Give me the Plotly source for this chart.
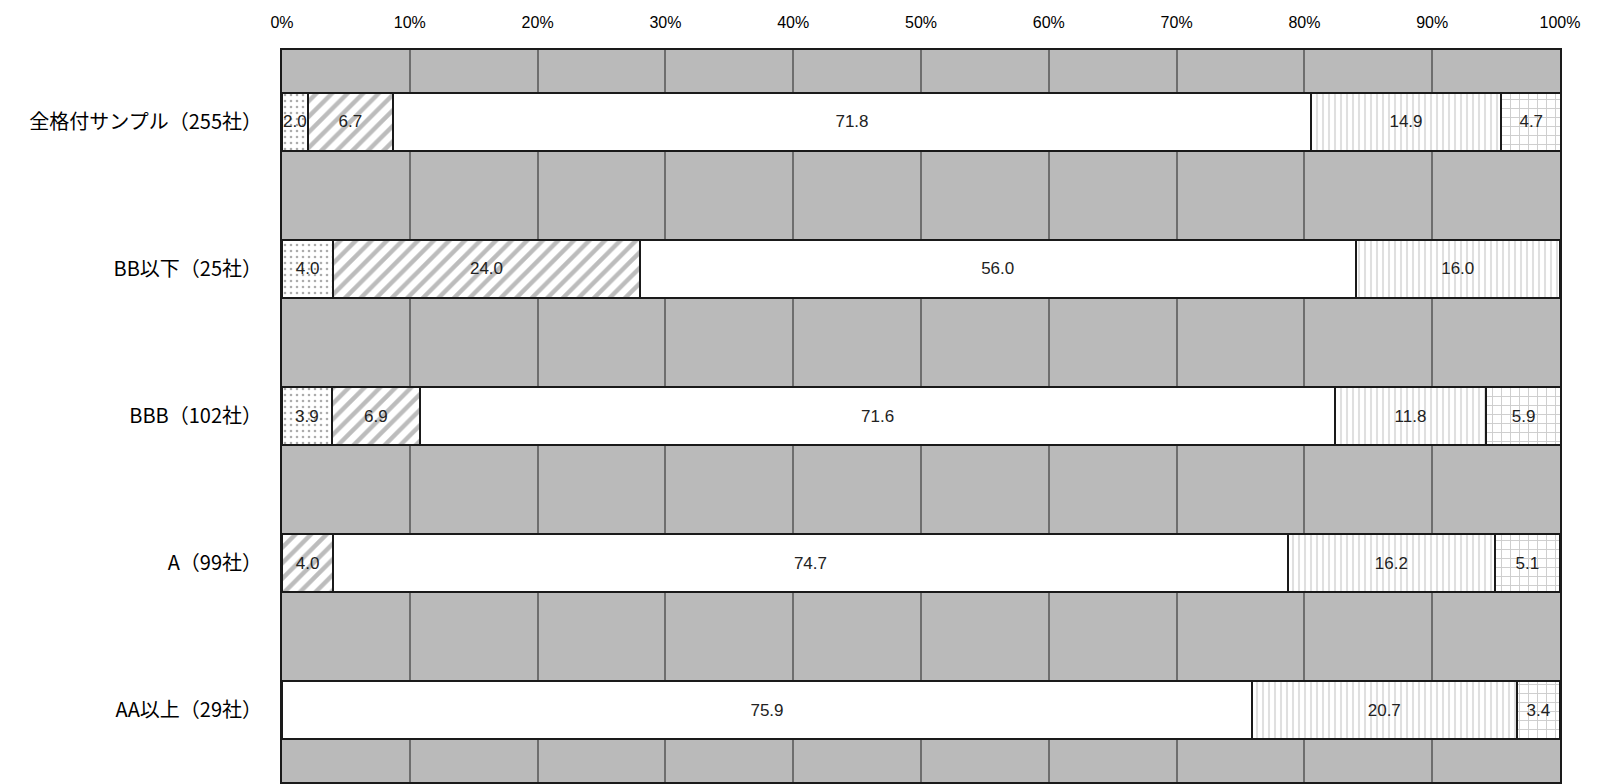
import plotly.graph_objects as go

# Rating groups (top to bottom) and share of each response (%)
categories = ["全格付サンプル（255社）", "BB以下（25社）", "BBB（102社）", "A（99社）", "AA以上（29社）"]
seg1 = [2.0, 4.0, 3.9, 0, 0]
seg2 = [6.7, 24.0, 6.9, 4.0, 0]
seg3 = [71.8, 56.0, 71.6, 74.7, 75.9]
seg4 = [14.9, 16.0, 11.8, 16.2, 20.7]
seg5 = [4.7, 0, 5.9, 5.1, 3.4]
tick_vals = [0, 10, 20, 30, 40, 50, 60, 70, 80, 90, 100]
tick_text = ["0%", "10%", "20%", "30%", "40%", "50%", "60%", "70%", "80%", "90%", "100%"]

styles = [
    dict(shape=".", fgcolor="#5a5a5a", bgcolor="#ffffff", size=6, solidity=0.15),
    dict(shape="/", fgcolor="#7a7a7a", bgcolor="#ffffff", size=11, solidity=0.4),
    dict(shape="", fgcolor="#ffffff", bgcolor="#ffffff"),
    dict(shape="|", fgcolor="#c0c0c0", bgcolor="#ffffff", size=6, solidity=0.35),
    dict(shape="+", fgcolor="#9a9a9a", bgcolor="#ffffff", size=9, solidity=0.2),
]

fig = go.Figure()
for vals, pat in zip([seg1, seg2, seg3, seg4, seg5], styles):
    xs = [v if v > 0 else None for v in vals]
    fig.add_trace(go.Bar(
        y=categories,
        x=xs,
        orientation="h",
        width=0.395,
        text=[f"{v:.1f}" if v > 0 else "" for v in vals],
        textposition="inside",
        insidetextanchor="middle",
        textangle=0,
        textfont=dict(family="Liberation Sans, Arial, sans-serif", size=17, color="#222222"),
        marker=dict(color="#ffffff", pattern=pat, line=dict(color="#1a1a1a", width=2)),
        showlegend=False,
        hoverinfo="skip",
    ))

fig.update_layout(
    barmode="stack",
    width=1601,
    height=784,
    margin=dict(l=282, r=41, t=50, b=0),
    paper_bgcolor="#ffffff",
    plot_bgcolor="#bababa",
    uniformtext=dict(minsize=17, mode="show"),
    xaxis=dict(
        range=[0, 100],
        side="top",
        tickvals=tick_vals,
        ticktext=tick_text,
        tickfont=dict(family="Liberation Sans, Arial, sans-serif", size=16, color="#000000"),
        ticks="",
        ticklabelstandoff=14,
        showgrid=True,
        gridcolor="#6e6e6e",
        gridwidth=1.5,
        zeroline=False,
        showline=True,
        linecolor="#1a1a1a",
        linewidth=2,
        mirror=True,
        fixedrange=True,
    ),
    yaxis=dict(
        categoryorder="array",
        categoryarray=categories,
        range=[4.488, -0.488],
        tickfont=dict(family="Noto Sans CJK JP, sans-serif", size=20, color="#000000"),
        ticks="",
        ticklabelstandoff=14,
        showgrid=False,
        zeroline=False,
        showline=True,
        linecolor="#1a1a1a",
        linewidth=2,
        mirror=True,
        fixedrange=True,
    ),
)

fig.write_html("out.html")
